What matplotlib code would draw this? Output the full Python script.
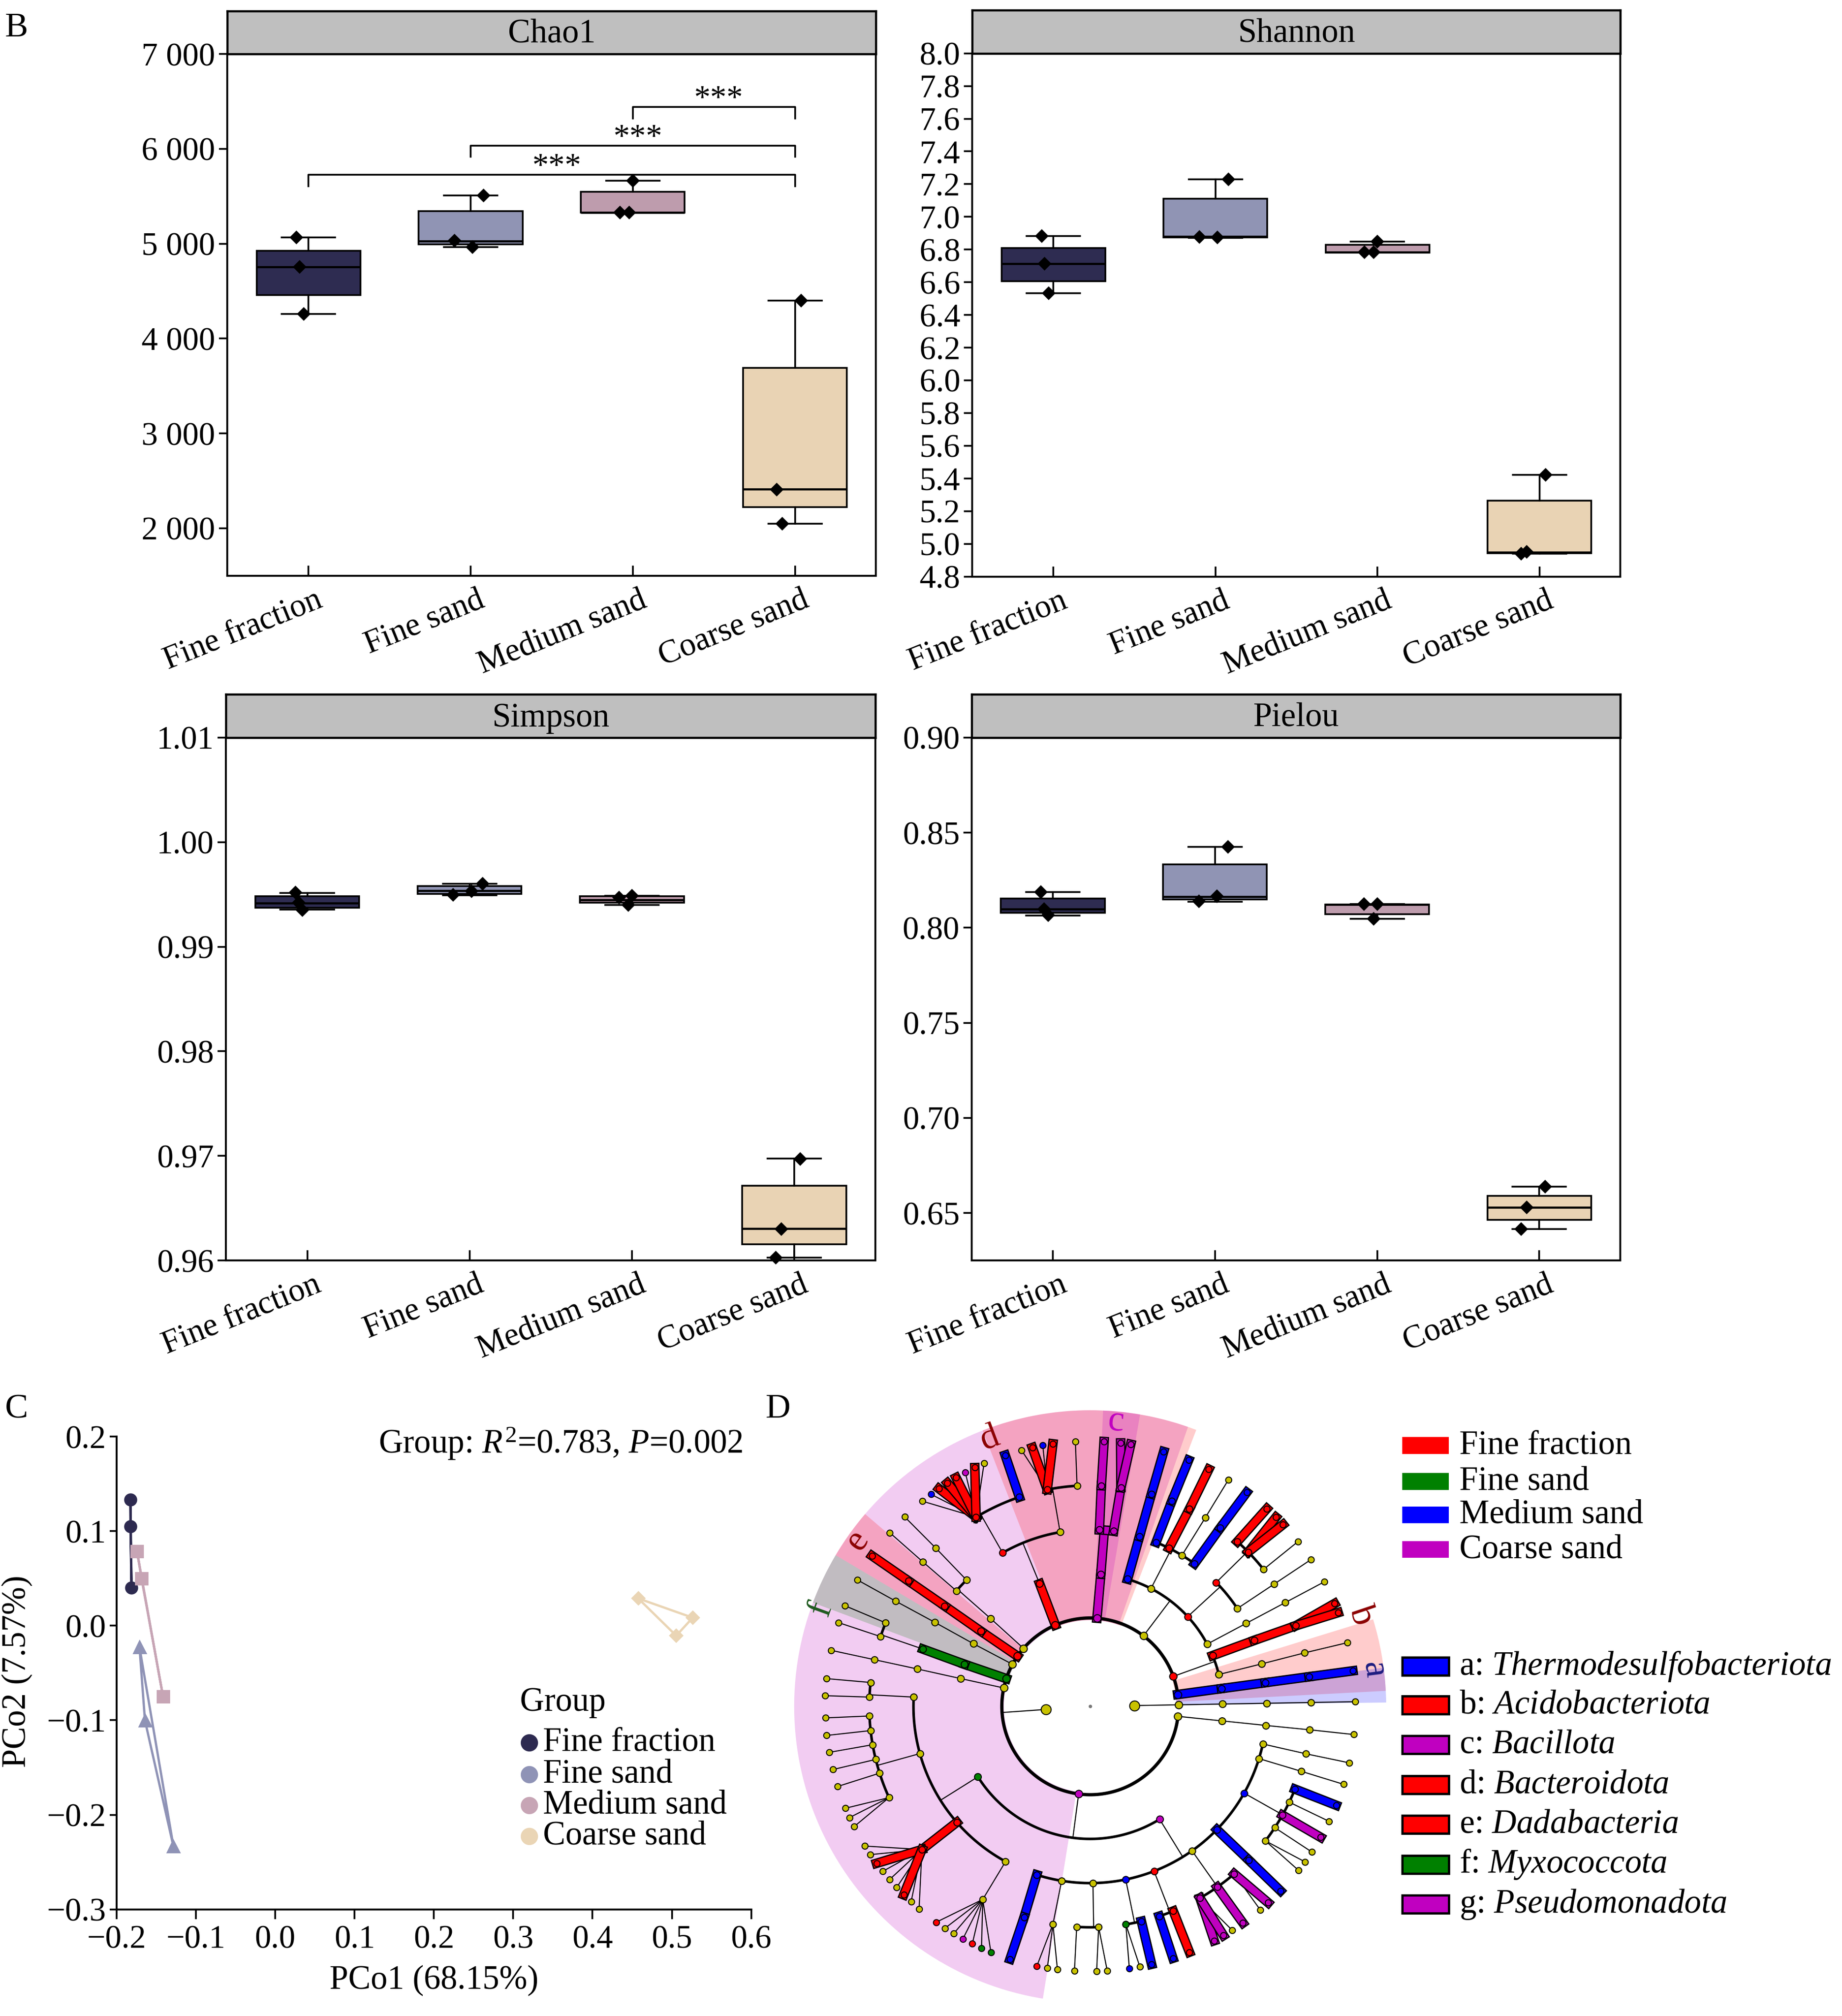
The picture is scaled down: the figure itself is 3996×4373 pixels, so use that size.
import numpy as np
import matplotlib
matplotlib.use('Agg')
import matplotlib.pyplot as plt
from matplotlib.patches import Rectangle, Wedge
from matplotlib.transforms import ScaledTranslation

plt.rcParams['font.family'] = ['Liberation Serif', 'DejaVu Serif']
plt.rcParams['mathtext.fontset'] = 'custom'
plt.rcParams['mathtext.rm'] = 'Liberation Serif'
plt.rcParams['mathtext.it'] = 'Liberation Serif:italic'
plt.rcParams['axes.unicode_minus'] = True

# ---------------------------------------------------------------- data
groups = ['Fine fraction', 'Fine sand', 'Medium sand', 'Coarse sand']
group_colors = ['#2e2c51', '#9094b4', '#be9cad', '#e9d3b4']
jitter = [[-0.073, -0.054, -0.029], [0.08, -0.10, 0.012],
          [0.0, -0.08, -0.022], [0.037, -0.113, -0.079]]

# per group: [whisker low, q1, median, q3, whisker high]
chao1_pts = [[5066, 4756, 4258], [5510, 5030, 4962], [5663, 5326, 5326], [4401, 2408, 2045]]
chao1_box = [[4258, 4459, 4756, 4925, 5066], [4962, 4994, 5025, 5344, 5510],
             [5326, 5326, 5330, 5546, 5663], [2045, 2220, 2412, 3688, 4401]]
chao1_ticks = [2000, 3000, 4000, 5000, 6000, 7000]
chao1_ticklabels = ['2 000', '3 000', '4 000', '5 000', '6 000', '7 000']

shannon_pts = [[6.883, 6.714, 6.532], [7.229, 6.878, 6.875], [6.849, 6.784, 6.784], [5.422, 4.940, 4.950]]
shannon_box = [[6.532, 6.607, 6.714, 6.810, 6.883], [6.870, 6.875, 6.880, 7.110, 7.229],
               [6.782, 6.782, 6.784, 6.828, 6.849], [4.941, 4.944, 4.949, 5.264, 5.422]]
shannon_ticks = [4.8, 5.0, 5.2, 5.4, 5.6, 5.8, 6.0, 6.2, 6.4, 6.6, 6.8, 7.0, 7.2, 7.4, 7.6, 7.8, 8.0]
shannon_ticklabels = ['4.8', '5.0', '5.2', '5.4', '5.6', '5.8', '6.0', '6.2', '6.4', '6.6',
                      '6.8', '7.0', '7.2', '7.4', '7.6', '7.8', '8.0']

simpson_pts = [[0.9952, 0.9942, 0.9935], [0.9960, 0.99495, 0.9953], [0.99489, 0.9947, 0.9940],
               [0.9697, 0.96025, 0.9630]]
simpson_box = [[0.99353, 0.99373, 0.99415, 0.99481, 0.99514], [0.99493, 0.99505, 0.99534, 0.99580, 0.99604],
               [0.99398, 0.99419, 0.99448, 0.99481, 0.99489], [0.96025, 0.96157, 0.96305, 0.96714, 0.96974]]
simpson_ticks = [0.96, 0.97, 0.98, 0.99, 1.00, 1.01]
simpson_ticklabels = ['0.96', '0.97', '0.98', '0.99', '1.00', '1.01']

pielou_pts = [[0.8187, 0.8098, 0.8066], [0.8424, 0.8140, 0.8166], [0.8125, 0.8125, 0.8046],
              [0.6639, 0.6416, 0.6530]]
pielou_box = [[0.8064, 0.8078, 0.8098, 0.8153, 0.8187], [0.8137, 0.8148, 0.8164, 0.8333, 0.8424],
              [0.8046, 0.8071, 0.8123, 0.8123, 0.8125], [0.6416, 0.6464, 0.6530, 0.6591, 0.6639]]
pielou_ticks = [0.65, 0.70, 0.75, 0.80, 0.85, 0.90]
pielou_ticklabels = ['0.65', '0.70', '0.75', '0.80', '0.85', '0.90']

sig_pairs = [(3, 4), (2, 4), (1, 4)]
sig_heights = [6443, 6035, 5725]
sig_labels = ['***', '***', '***']

# PCoA
pcoa_x = [[-0.1824, -0.1824, -0.1811], [-0.1710, -0.1641, -0.1282],
          [-0.1742, -0.1685, -0.1414], [0.4576, 0.5263, 0.5055]]
pcoa_y = [[0.1332, 0.1049, 0.0403], [-0.0230, -0.1004, -0.2336],
          [0.0788, 0.0500, -0.0748], [0.0288, 0.0084, -0.0106]]
pcoa_markers = ['o', '^', 's', 'D']
pcoa_colors = ['#2d2a50', '#8f93b6', '#c7a5b5', '#ead5b5']
pcoa_xticks = [-0.2, -0.1, 0.0, 0.1, 0.2, 0.3, 0.4, 0.5, 0.6]
pcoa_yticks = [-0.3, -0.2, -0.1, 0.0, 0.1, 0.2]

# LEfSe cladogram: (node, parent, angle in degrees, class colour key)
clade_kingdoms = [('K1', 'root', 1.0, 'y'), ('K1a', 'K1', 1.0, 'y'), ('K1b', 'K1a', 1.0, 'y'),
                  ('K1c', 'K1b', 1.0, 'y'), ('K1d', 'K1c', 1.0, 'y'), ('K1e', 'K1d', 1.0, 'y'),
                  ('K2', 'root', 184.0, 'y')]
clade_a_b = [('a2', 'K2', 7.7, 'b'), ('a3', 'a2', 7.7, 'b'), ('a4', 'a3', 7.7, 'b'),
             ('a5', 'a4', 7.7, 'b'), ('a6', 'a5', 7.7, 'b'),
             ('b2', 'K2', 19.8, 'r'), ('b3r', 'b2', 22.5, 'r'), ('b4r', 'b3r', 21.9, 'r'),
             ('b5r', 'b4r', 21.4, 'r'), ('b6r1', 'b5r', 22.8, 'r'), ('b6r2', 'b5r', 20.7, 'r'),
             ('b3y', 'b2', 13.9, 'y'), ('b4y', 'b3y', 13.9, 'y'), ('b5y', 'b4y', 14.0, 'y'),
             ('b6y', 'b5y', 13.9, 'y')]
clade_p = [('p2', 'K2', 52.9, 'y'),
           ('p3a', 'p2', 73.6, 'b'), ('p4a', 'p3a', 73.8, 'b'), ('p5a', 'p4a', 73.9, 'b'), ('p6a', 'p5a', 73.9, 'b'),
           ('p3b', 'p2', 62.7, 'y'),
           ('p4b1', 'p3b', 68.1, 'b'), ('p5b1', 'p4b1', 68.3, 'b'), ('p6b1', 'p5b1', 68.2, 'b'),
           ('p4b2', 'p3b', 63.5, 'r'), ('p5b2', 'p4b2', 63.3, 'r'), ('p6b2', 'p5b2', 63.4, 'r'),
           ('p4b3', 'p3b', 58.7, 'y'), ('p5b3', 'p4b3', 58.6, 'y'), ('p6b3', 'p5b3', 58.6, 'y'),
           ('p4b4', 'p3b', 53.8, 'b'), ('p5b4', 'p4b4', 53.9, 'b'), ('p6b4', 'p5b4', 53.8, 'b'),
           ('p3c', 'p2', 42.6, 'r'), ('p4c1', 'p3c', 44.5, 'r'),
           ('p5c1', 'p4c1', 48.2, 'r'), ('p6c1', 'p5c1', 48.2, 'r'),
           ('p5c2', 'p4c1', 44.3, 'r'), ('p6c2', 'p5c2', 45.5, 'r'), ('p6c3', 'p5c2', 43.3, 'r'),
           ('p5c3', 'p4c1', 38.3, 'y'), ('p6c4', 'p5c3', 38.4, 'y'),
           ('p4c2', 'p3c', 33.6, 'y'), ('p5c4', 'p4c2', 33.6, 'y'), ('p6c5', 'p5c4', 33.6, 'y'),
           ('p3d', 'p2', 28.0, 'y'), ('p4d', 'p3d', 28.0, 'y'), ('p5d', 'p4d', 28.0, 'y'), ('p6d', 'p5d', 28.0, 'y')]
clade_c_d = [('c2', 'K2', 85.6, 'm'), ('c3', 'c2', 85.4, 'm'),
             ('c4a', 'c3', 87.0, 'm'), ('c5a', 'c4a', 87.1, 'm'), ('c6a', 'c5a', 87.0, 'm'),
             ('c4b', 'c3', 82.4, 'm'), ('c5b', 'c4b', 82.0, 'm'), ('c6b', 'c5b', 83.4, 'm'), ('c6c', 'c5b', 81.2, 'm'),
             ('d2', 'K2', 113.2, 'r'), ('d3', 'd2', 112.4, 'r'),
             ('d4a', 'd3', 119.7, 'r'), ('d5a', 'd4a', 121.1, 'r'),
             ('d6a1', 'd5a', 129.3, 'y'), ('d6a2', 'd5a', 126.9, 'b'), ('d6a3', 'd5a', 124.8, 'r'),
             ('d6a4', 'd5a', 122.6, 'r'), ('d6a5', 'd5a', 120.4, 'r'), ('d6a6', 'd5a', 118.1, 'm'),
             ('d6a7', 'd5a', 115.8, 'r'), ('d6a8', 'd5a', 113.6, 'y'),
             ('d5b', 'd4a', 108.7, 'b'), ('d6b', 'd5b', 108.7, 'b'),
             ('d4b', 'd3', 99.8, 'y'), ('d5c', 'd4b', 101.2, 'r'),
             ('d6c1', 'd5c', 105.0, 'y'), ('d6c2', 'd5c', 102.6, 'r'), ('d6c3', 'd5c', 100.3, 'b'),
             ('d6c4', 'd5c', 98.1, 'r'),
             ('d5d', 'd4b', 93.4, 'y'), ('d6d', 'd5d', 93.2, 'y')]
clade_left = [('q2', 'K2', 139.0, 'y'), ('q3', 'q2', 138.6, 'y'),
              ('q4a', 'q3', 139.2, 'y'), ('q5a', 'q4a', 139.2, 'y'), ('q6a', 'q5a', 139.1, 'y'),
              ('q4b', 'q3', 134.4, 'y'), ('q5b', 'q4b', 134.3, 'y'), ('q6b', 'q5b', 134.4, 'y'),
              ('e2', 'K2', 145.4, 'r'), ('e3', 'e2', 145.5, 'r'), ('e4', 'e3', 145.4, 'r'),
              ('e5', 'e4', 145.4, 'r'), ('e6', 'e5', 145.4, 'r'),
              ('s2', 'K2', 151.6, 'y'), ('s3', 's2', 151.8, 'y'), ('s4', 's3', 151.6, 'y'),
              ('s5', 's4', 151.6, 'y'), ('s6', 's5', 151.5, 'y'),
              ('f2', 'K2', 161.7, 'g'), ('f3', 'f2', 161.5, 'g'), ('f4', 'f3', 161.1, 'g'),
              ('f5a', 'f4', 161.6, 'y'), ('f6a', 'f5a', 161.6, 'y'),
              ('f5b', 'f4', 157.8, 'y'), ('f6b', 'f5b', 157.7, 'y'),
              ('t2', 'K2', 168.0, 'y'), ('t3', 't2', 167.9, 'y'), ('t4', 't3', 167.8, 'y'),
              ('t5', 't4', 167.8, 'y'), ('t6', 't5', 167.8, 'y')]
clade_g1 = [('g2', 'K2', 262.5, 'm'), ('g3a', 'g2', 212.1, 'g'),
            ('g4a', 'g3a', 177.0, 'y'), ('g5a1', 'g4a', 173.8, 'y'), ('g6a1', 'g5a1', 174.0, 'y'),
            ('g5a2', 'g4a', 177.6, 'y'), ('g6a2', 'g5a2', 177.7, 'y'),
            ('g4b', 'g3a', 195.5, 'y'),
            ('g5b1', 'g4b', 182.5, 'y'), ('g6b1', 'g5b1', 182.5, 'y'),
            ('g5b2', 'g4b', 186.3, 'y'), ('g6b2', 'g5b2', 186.3, 'y'),
            ('g5b3', 'g4b', 190.0, 'y'), ('g6b3', 'g5b3', 190.0, 'y'),
            ('g5b4', 'g4b', 193.9, 'y'), ('g6b4', 'g5b4', 193.8, 'y'),
            ('g5b5', 'g4b', 197.6, 'y'), ('g6b5', 'g5b5', 197.6, 'y'),
            ('g5b6', 'g4b', 204.4, 'y'), ('g6b6', 'g5b6', 202.6, 'y'), ('g6b7', 'g5b6', 204.8, 'y'),
            ('g6b8', 'g5b6', 207.0, 'y'),
            ('g4c', 'g3a', 221.0, 'r'), ('g5c', 'g4c', 220.4, 'r'),
            ('g6c1', 'g5c', 211.8, 'y'), ('g6c2', 'g5c', 214.0, 'y'), ('g6c3', 'g5c', 216.3, 'r'),
            ('g6c4', 'g5c', 218.5, 'y'), ('g6c5', 'g5c', 220.8, 'y'), ('g6c6', 'g5c', 223.1, 'y'),
            ('g6c7', 'g5c', 225.3, 'r'), ('g6c8', 'g5c', 227.5, 'y'), ('g6c9', 'g5c', 229.8, 'y'),
            ('g4d', 'g3a', 241.4, 'y'), ('g5d', 'g4d', 240.9, 'y'),
            ('g6d1', 'g5d', 234.5, 'r'), ('g6d2', 'g5d', 236.8, 'y'), ('g6d3', 'g5d', 239.0, 'y'),
            ('g6d4', 'g5d', 241.3, 'm'), ('g6d5', 'g5d', 243.6, 'r'), ('g6d6', 'g5d', 245.8, 'g'),
            ('g6d7', 'g5d', 248.0, 'g')]
clade_g2 = [('g3b', 'g2', 301.6, 'm'),
            ('h4a', 'g3b', 252.4, 'b'), ('h5a', 'h4a', 252.6, 'b'), ('h6a', 'h5a', 252.4, 'b'),
            ('h4b', 'g3b', 260.7, 'y'), ('h5b', 'h4b', 260.3, 'y'),
            ('h6b1', 'h5b', 258.4, 'r'), ('h6b2', 'h5b', 260.7, 'y'), ('h6b3', 'h5b', 262.9, 'y'),
            ('h4c', 'g3b', 270.9, 'y'), ('h5c1', 'h4c', 266.5, 'y'), ('h6c1', 'h5c1', 266.6, 'y'),
            ('h5c2', 'h4c', 272.2, 'y'), ('h6c2', 'h5c2', 271.4, 'y'), ('h6c3', 'h5c2', 273.7, 'y'),
            ('h4d', 'g3b', 281.6, 'b'), ('h5d1', 'h4d', 279.3, 'g'), ('h6d1', 'h5d1', 278.5, 'b'),
            ('h6d2', 'h5d1', 280.8, 'y'), ('h5d2', 'h4d', 283.4, 'b'), ('h6d3', 'h5d2', 283.4, 'b'),
            ('h4e', 'g3b', 291.2, 'r'), ('h5e1', 'h4e', 288.2, 'b'), ('h6e1', 'h5e1', 288.2, 'b'),
            ('h5e2', 'h4e', 292.1, 'r'), ('h6e2', 'h5e2', 292.0, 'r'),
            ('h4f', 'g3b', 305.2, 'y'), ('h5f1', 'h4f', 299.8, 'm'), ('h6f1', 'h5f1', 297.9, 'm'),
            ('h6f2', 'h5f1', 300.2, 'm'), ('h6f3', 'h5f1', 302.4, 'y'),
            ('h5f2', 'h4f', 305.1, 'm'), ('h6f4', 'h5f2', 305.2, 'm'),
            ('h5f3', 'h4f', 310.7, 'm'), ('h6f5', 'h5f3', 309.9, 'y'), ('h6f6', 'h5f3', 312.2, 'm'),
            ('h4g', 'g3b', 315.8, 'b'), ('h5g', 'h4g', 315.9, 'b'), ('h6g', 'h5g', 315.9, 'b'),
            ('h4h', 'g3b', 330.6, 'b'),
            ('h5h1', 'h4h', 338.0, 'b'), ('h6h1', 'h5h1', 338.1, 'b'),
            ('h5h2', 'h4h', 334.3, 'y'), ('h6h2', 'h5h2', 334.3, 'y'),
            ('h5h3', 'h4h', 330.5, 'm'), ('h6h3', 'h5h3', 330.4, 'm'),
            ('h5h4', 'h4h', 326.7, 'y'), ('h6h4', 'h5h4', 326.7, 'y'),
            ('h5h5', 'h4h', 322.5, 'y'), ('h6h5', 'h5h5', 324.1, 'y'), ('h6h6', 'h5h5', 321.8, 'y'),
            ('h4i', 'g3b', 342.8, 'y'), ('h5i', 'h4i', 342.9, 'y'), ('h6i', 'h5i', 342.9, 'y'),
            ('h4j', 'g3b', 347.7, 'y'), ('h5j', 'h4j', 347.6, 'y'), ('h6j', 'h5j', 347.7, 'y'),
            ('u2', 'K2', 353.5, 'y'), ('u3', 'u2', 353.7, 'y'), ('u4', 'u3', 353.8, 'y'),
            ('u5', 'u4', 353.9, 'y'), ('u6', 'u5', 353.9, 'y')]

# shaded biomarker sectors: (start angle, end angle, colour key), drawn in order
sector_keys = ['g', 'd', 'c', 'e', 'f', 'b', 'a']
sector_ranges = [(70.7, 260.8), (69.0, 111.3), (80.3, 87.5), (139.5, 149.3),
                 (149.3, 159.5), (3.0, 17.1), (0.74, 7.5)]
sector_cols = ['m', 'r', 'm', 'r', 'g', 'r', 'b']
sector_label_angles = [None, 110.6, 84.8, 144.5, 160.1, 18.5, 7.4]
sector_label_colors = ['#800080', '#8b0000', '#c000c0', '#8b0000', '#1e5a1e', '#8b0000', '#1c1c80']

class_names = ['Fine fraction', 'Fine sand', 'Medium sand', 'Coarse sand']
class_keys = ['r', 'g', 'b', 'm']
biomarker_letters = ['a', 'b', 'c', 'd', 'e', 'f', 'g']
biomarker_names = ['Thermodesulfobacteriota', 'Acidobacteriota', 'Bacillota', 'Bacteroidota',
                   'Dadabacteria', 'Myxococcota', 'Pseudomonadota']
biomarker_keys = ['b', 'r', 'm', 'r', 'r', 'g', 'm']

COL = {'y': '#c8c200', 'r': '#ff0000', 'g': '#008000', 'b': '#0000ff', 'm': '#c000c0'}

# ---------------------------------------------------------------- layout
W, H = 1434.0, 1569.0
fig = plt.figure(figsize=(13.32, 14.5767), dpi=300)
fig.patch.set_facecolor('white')


def fax(l, t, r, b):
    return fig.add_axes([l / W, 1 - b / H, (r - l) / W, (b - t) / H])


TICK_FS = 17


def box_panel(rect, title, pts, box, yticks, yticklabels, ylim, sig=False):
    l, t, r, b = rect
    ax = fax(l, t, r, b)
    sax = fax(l, t - 33.5, r, t)
    sax.set_facecolor('#bfbfbf')
    sax.set_xticks([])
    sax.set_yticks([])
    for s in sax.spines.values():
        s.set_linewidth(1.1)
    sax.text(0.5, 0.45, title, ha='center', va='center', fontsize=17.5, transform=sax.transAxes)

    stats = []
    for s in box:
        stats.append(dict(whislo=s[0], q1=s[1], med=s[2], q3=s[3], whishi=s[4], fliers=[]))
    pos = [1, 2, 3, 4]
    bp = ax.bxp(stats, positions=pos, widths=0.64, patch_artist=True, showfliers=False,
                capwidths=0.33,
                boxprops=dict(linewidth=0.9, edgecolor='black'),
                whiskerprops=dict(linewidth=0.9, color='black'),
                capprops=dict(linewidth=0.9, color='black'),
                medianprops=dict(linewidth=1.1, color='black'))
    for patch, c in zip(bp['boxes'], group_colors):
        patch.set_facecolor(c)
    for i in range(4):
        xs = [pos[i] + j for j in jitter[i]]
        ax.plot(xs, pts[i], 'D', color='black', ms=4.2, zorder=5, clip_on=False)

    ax.set_xlim(0.5, 4.5)
    ax.set_ylim(*ylim)
    ax.set_yticks(yticks)
    ax.set_yticklabels(yticklabels, fontsize=TICK_FS)
    ax.set_xticks(pos)
    ax.set_xticklabels(groups, fontsize=TICK_FS, rotation=22, ha='right', rotation_mode='anchor')
    ax.tick_params(axis='y', direction='out', length=4.3, width=0.9, pad=2)
    ax.tick_params(axis='x', direction='in', length=5.2, width=0.9, pad=5)
    for tk in ax.xaxis.get_major_ticks():
        tk.label1.set_transform(tk.label1.get_transform() + ScaledTranslation(0.05, 0, fig.dpi_scale_trans))
    for s in ax.spines.values():
        s.set_linewidth(1.0)

    if sig:
        drop = 121
        for (g1, g2), hgt, lab in zip(sig_pairs, sig_heights, sig_labels):
            ax.plot([g1, g1, g2, g2], [hgt - drop, hgt, hgt, hgt - drop], color='black', lw=0.9)
            ax.text((g1 + g2) / 2 + 0.03, hgt - 10, lab, ha='center', va='baseline', fontsize=TICK_FS)
    return ax


box_panel((177, 42, 682, 448), 'Chao1', chao1_pts, chao1_box, chao1_ticks, chao1_ticklabels,
          (1500, 7000), sig=True)
box_panel((757, 41.5, 1261.5, 448.7), 'Shannon', shannon_pts, shannon_box, shannon_ticks,
          shannon_ticklabels, (4.8, 8.0))
box_panel((176, 574, 681.5, 981), 'Simpson', simpson_pts, simpson_box, simpson_ticks,
          simpson_ticklabels, (0.96, 1.01))
box_panel((756.5, 574, 1261.5, 981), 'Pielou', pielou_pts, pielou_box, pielou_ticks,
          pielou_ticklabels, (0.625, 0.90))

# ---------------------------------------------------------------- PCoA
axc = fax(90.7, 1118, 584.8, 1486)
for i in range(4):
    xs = pcoa_x[i] + [pcoa_x[i][0]]
    ys = pcoa_y[i] + [pcoa_y[i][0]]
    axc.plot(xs, ys, color=pcoa_colors[i], lw=1.2, zorder=2)
    ms = {'o': 5.8, '^': 6.0, 's': 6.0, 'D': 4.4}[pcoa_markers[i]]
    axc.plot(pcoa_x[i], pcoa_y[i], pcoa_markers[i], color=pcoa_colors[i], ms=ms, zorder=3,
             mec=pcoa_colors[i], clip_on=False)
axc.set_xlim(-0.2, 0.6)
axc.set_ylim(-0.3, 0.2)
axc.set_xticks(pcoa_xticks)
axc.set_xticklabels(['%.1f' % v if v >= 0 else '\u2212%.1f' % -v for v in pcoa_xticks], fontsize=17)
axc.set_yticks(pcoa_yticks)
axc.set_yticklabels(['%.1f' % v if v >= 0 else '\u2212%.1f' % -v for v in pcoa_yticks], fontsize=17)
axc.spines['top'].set_visible(False)
axc.spines['right'].set_visible(False)
for s in ('left', 'bottom'):
    axc.spines[s].set_linewidth(1.0)
axc.tick_params(axis='x', direction='out', length=5, width=0.9, pad=3)
axc.tick_params(axis='y', direction='out', length=3.5, width=0.9, pad=2)
axc.set_xlabel('PCo1 (68.15%)', fontsize=17.5)
axc.xaxis.set_label_coords(0.5, -0.118)
axc.set_ylabel('PCo2 (7.57%)', fontsize=17.5)
axc.yaxis.set_label_coords(-0.132, 0.503)
axc.text(0.987, 0.986, 'Group: $R^2$=0.783, $P$=0.002', transform=axc.transAxes,
         ha='right', va='center', fontsize=17.5)
# legend
axc.text(0.636, 0.4375, 'Group', transform=axc.transAxes, ha='left', va='center', fontsize=17.5)
leg_y = [0.353, 0.2853, 0.220, 0.155]
for i in range(4):
    axc.plot([0.650], [leg_y[i]], 'o', color=pcoa_colors[i], ms=8, transform=axc.transAxes,
             clip_on=False)
    axc.text(0.672, leg_y[i], groups[i], transform=axc.transAxes, ha='left', va='center', fontsize=17.5)

# ---------------------------------------------------------------- cladogram
axd = fax(610.7, 1090, 1086.7, 1566)
axd.set_xlim(-6.92, 6.92)
axd.set_ylim(-6.92, 6.92)
axd.axis('off')

R_OUT, R_IN = 6.7, 1.95
for key, (t1, t2), ck in zip(sector_keys, sector_ranges, sector_cols):
    axd.add_patch(Wedge((0, 0), R_OUT, t1, t2, width=R_OUT - R_IN, facecolor=COL[ck], alpha=0.2,
                        lw=0, zorder=0))

all_nodes = clade_kingdoms + clade_a_b + clade_p + clade_c_d + clade_left + clade_g1 + clade_g2
parent = {n: p for n, p, a, c in all_nodes}
angle = {n: a for n, p, a, c in all_nodes}
ckey = {n: c for n, p, a, c in all_nodes}
children = {}
for n, p, a, c in all_nodes:
    children.setdefault(p, []).append(n)


def level(n):
    k = 0
    while n != 'root':
        n = parent[n]
        k += 1
    return k


lev = {n: level(n) for n in parent}


def pol(r, th):
    t = np.deg2rad(th)
    return r * np.cos(t), r * np.sin(t)


def bar(xs, ys, c):
    axd.plot(xs, ys, color='black', lw=5.0, solid_capstyle='projecting', zorder=3)
    axd.plot(xs, ys, color=COL[c], lw=3.7, solid_capstyle='projecting', zorder=3)


def thin(xs, ys):
    axd.plot(xs, ys, color='black', lw=0.55, zorder=1)


for p, ch in children.items():
    if p == 'root':
        continue
    lp = lev[p]
    rp, rc = lp, lp + 1
    cp = ckey[p]
    if len(ch) == 1 or lp >= 5:
        for c in ch:
            x0, y0 = pol(rp, angle[p])
            x1, y1 = pol(rc, angle[c])
            if cp != 'y' and ckey[c] == cp:
                bar([x0, x1], [y0, y1], cp)
            else:
                thin([x0, x1], [y0, y1])
    else:
        same = cp != 'y' and all(ckey[c] == cp for c in ch)
        x0, y0 = pol(rp, angle[p])
        x1, y1 = pol(rc, angle[p])
        angs = [angle[c] for c in ch]
        th = np.linspace(min(angs), max(angs), 400)
        ax_, ay_ = rc * np.cos(np.deg2rad(th)), rc * np.sin(np.deg2rad(th))
        if same:
            bar([x0, x1], [y0, y1], cp)
            bar(ax_, ay_, cp)
        else:
            thin([x0, x1], [y0, y1])
            axd.plot(ax_, ay_, color='black', lw=1.7 if rc == 2 else 1.35, zorder=2,
                     solid_capstyle='butt')

node_ms = {1: 5.2, 2: 3.9, 3: 3.6, 4: 3.5, 5: 3.4, 6: 3.2}
for n in parent:
    x, y = pol(lev[n], angle[n])
    axd.plot([x], [y], 'o', ms=node_ms[lev[n]], mfc=COL[ckey[n]], mec='black', mew=0.5, zorder=5)
axd.plot([0], [0], 'o', ms=0.8, color='#777777', zorder=5)

for key, la, lc in zip(sector_keys, sector_label_angles, sector_label_colors):
    if la is None:
        continue
    x, y = pol(6.47, la)
    axd.text(x, y, key, rotation=la - 90, ha='center', va='center', fontsize=19, color=lc,
             rotation_mode='anchor', zorder=6)

# cladogram legends
leg1_y = [1125, 1153, 1179, 1206]
for yc, name, k in zip(leg1_y, class_names, class_keys):
    fig.add_artist(Rectangle((1091.5 / W, 1 - (yc + 6.5) / H), 36.5 / W, 13 / H,
                             transform=fig.transFigure, facecolor=COL[k], edgecolor='none'))
    fig.text(1136 / W, 1 - yc / H, name, ha='left', va='center', fontsize=17.5)
leg2_y = [1297, 1327, 1358, 1389, 1420, 1451, 1482]
for yc, let, name, k in zip(leg2_y, biomarker_letters, biomarker_names, biomarker_keys):
    fig.add_artist(Rectangle((1091.5 / W, 1 - (yc + 7) / H), 36.5 / W, 14 / H,
                             transform=fig.transFigure, facecolor=COL[k], edgecolor='black', lw=1.2))
    fig.text(1136 / W, 1 - yc / H, let + ': $\\mathit{' + name + '}$', ha='left', va='center',
             fontsize=17.5)

# panel letters
fig.text(4 / W, 1 - 22 / H, 'B', ha='left', va='center', fontsize=18)
fig.text(4 / W, 1 - 1097 / H, 'C', ha='left', va='center', fontsize=18)
fig.text(596 / W, 1 - 1097 / H, 'D', ha='left', va='center', fontsize=18)

fig.savefig('out.png', dpi=300, facecolor='white')
